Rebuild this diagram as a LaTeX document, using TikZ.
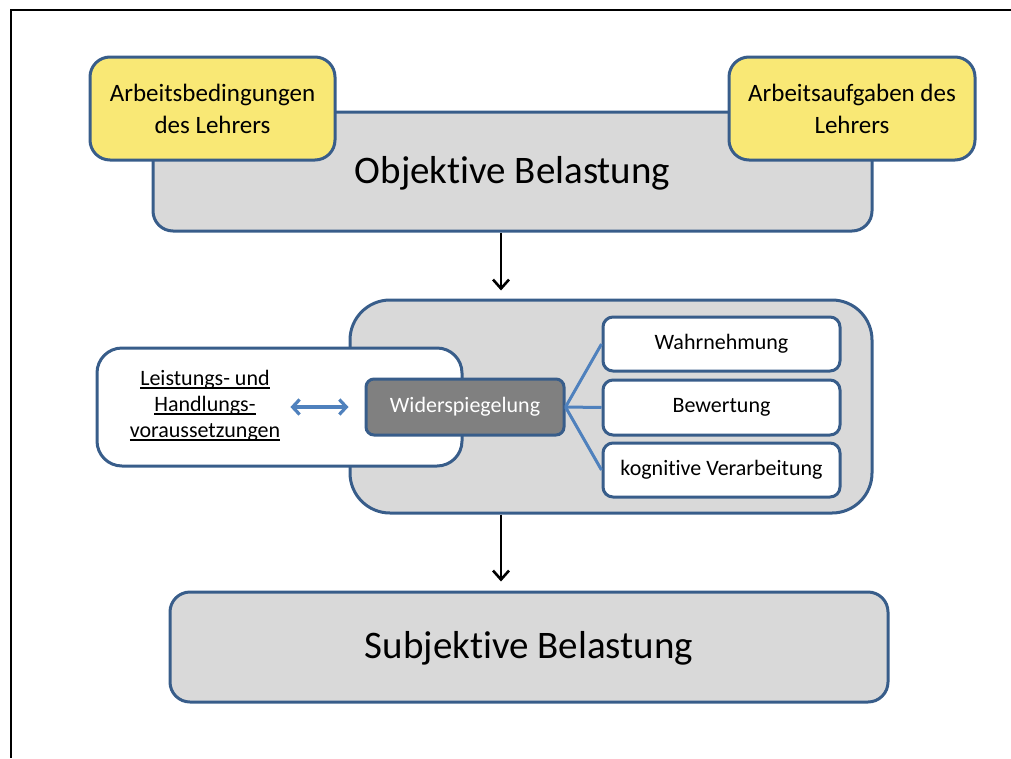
\documentclass[tikz,border=0pt]{standalone}
\usepackage{fontspec}
\setmainfont{Carlito}[Ligatures=NoCommon]
\usetikzlibrary{arrows.meta}
\definecolor{frameblue}{RGB}{56,93,138}
\definecolor{boxgray}{RGB}{217,217,217}
\definecolor{noteyellow}{RGB}{249,232,117}
\definecolor{darkgray}{RGB}{128,128,128}
\definecolor{linkblue}{RGB}{79,129,189}
% underline drawn as a rule just below the baseline
\newlength\ulinewd
\newcommand\ulined[1]{\settowidth\ulinewd{#1}\rlap{\rule[-3pt]{\ulinewd}{1.6pt}}#1}
\tikzset{
  panel/.style={draw=frameblue, line width=3pt, rounded corners=#1, inner sep=0pt},
  panel/.default=20pt,
  bigtext/.style={font=\fontsize{39}{47}\selectfont},
  midtext/.style={font=\fontsize{25}{32}\selectfont, align=center},
  smalltext/.style={font=\fontsize{22}{26}\selectfont, align=center},
  flow/.style={line width=2.6pt, -{Straight Barb[length=9pt,width=16pt,line width=2.6pt]}},
  link/.style={draw=linkblue, line width=3pt},
}
\begin{document}
\begin{tikzpicture}[x=1pt,y=-1pt]
\useasboundingbox (0,0) rectangle (1011,758);
% page frame (top and left edges)
\draw[line width=2.4pt] (1011,10) -- (11,10) -- (11,758);

% objective load with its two sources
\node[panel, fill=boxgray, minimum width=719pt, minimum height=119pt] (obj) at (512.5,171.5) {};
\node[bigtext] (objtext) at (512.5,173) {Objektive Belastung};
\node[panel, fill=noteyellow, minimum width=245pt, minimum height=103pt, midtext] (cond) at (212.5,108.5) {Arbeitsbedingungen\\des Lehrers};
\node[panel, fill=noteyellow, minimum width=246pt, minimum height=103pt, midtext] (task) at (852,108.5) {Arbeitsaufgaben des\\Lehrers};

% reflection block
\node[panel=40pt, fill=boxgray, minimum width=522pt, minimum height=213pt] (mid) at (611,406.5) {};
\node[panel=25pt, fill=white, minimum width=365pt, minimum height=118pt] (prereq) at (279.5,407) {};
\node[smalltext, inner sep=0pt] (prereqtext) at (205,406)
  {\ulined{Leistungs- und}\\\ulined{Handlungs-}\\\ulined{voraussetzungen}};
\node[panel=8pt, fill=darkgray, text=white, minimum width=198pt, minimum height=56pt, smalltext] (wid) at (465,407) {Widerspiegelung};

\node[panel=10pt, fill=white, minimum width=237pt, minimum height=54pt, smalltext] (perc) at (721.5,344) {Wahrnehmung};
\node[panel=10pt, fill=white, minimum width=237pt, minimum height=55pt, smalltext] (eval) at (721.5,407.5) {Bewertung};
\node[panel=10pt, fill=white, minimum width=237pt, minimum height=54pt, smalltext] (cogn) at (721.5,470) {kognitive Verarbeitung};

\draw[link] (wid.east) -- (perc.west);
\draw[link] (wid.east) -- (eval.west);
\draw[link] (wid.east) -- (cogn.west);
\draw[link, line width=3.2pt, {Straight Barb[length=7pt,width=15pt,line width=3.2pt]}-{Straight Barb[length=7pt,width=15pt,line width=3.2pt]}, shorten <=10pt, shorten >=16pt] (prereqtext.east |- wid.west) -- (wid.west);

% subjective load
\node[panel, fill=boxgray, minimum width=718pt, minimum height=110pt] (subj) at (529,647) {};
\node[bigtext] (subjtext) at (529,648) {Subjektive Belastung};

% vertical flow
\coordinate (axis) at (501,0);
\draw[flow, shorten >=8pt] (obj.south -| axis) -- (mid.north -| axis);
\draw[flow, shorten >=9pt] (mid.south -| axis) -- (subj.north -| axis);
\end{tikzpicture}
\end{document}
